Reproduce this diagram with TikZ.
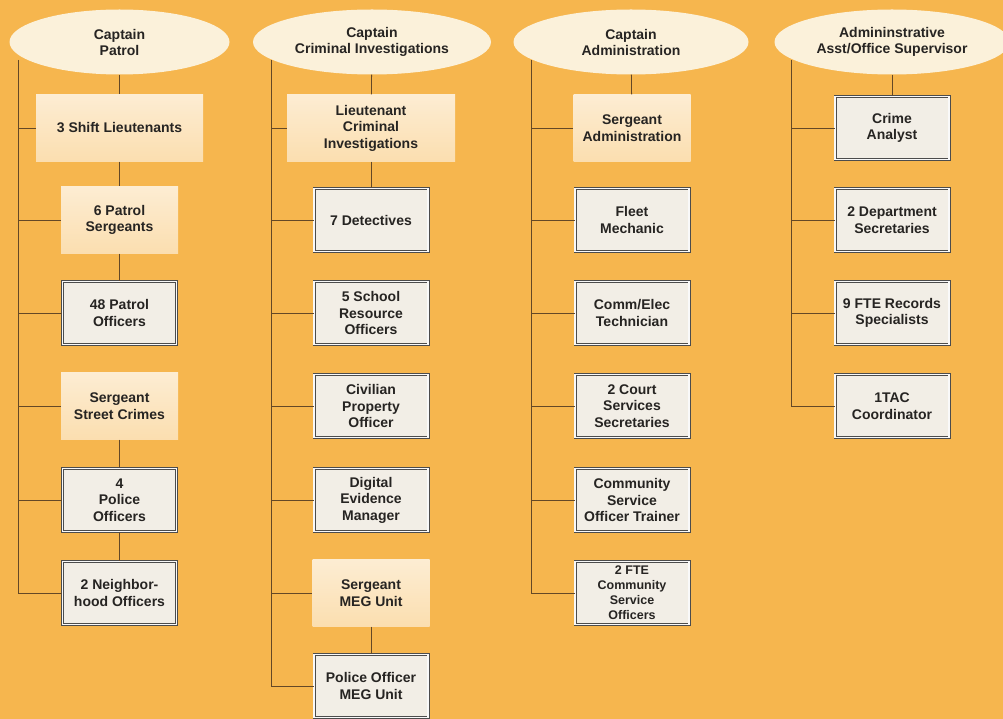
\documentclass[tikz,border=0pt]{standalone}
\usepackage{fontspec}
\setmainfont{Liberation Sans}
\usetikzlibrary{shapes.geometric}
\definecolor{bgorange}{RGB}{246,182,78}
\definecolor{cream}{RGB}{251,241,218}
\definecolor{boxfill}{RGB}{242,238,230}
\definecolor{linebrown}{RGB}{100,72,38}
\definecolor{txt}{RGB}{38,36,34}
\begin{document}
\begin{tikzpicture}[x=1pt,y=-1pt,
	chief/.style={ellipse,fill=cream,text=txt,align=center,inner sep=0pt,minimum height=65,font=\fontsize{14}{16}\selectfont\bfseries},
	lead/.style={rectangle,top color=bgorange!25!white,middle color=white,bottom color=bgorange!45!white,text=txt,align=center,inner sep=2pt,minimum width=117,minimum height=67,font=\fontsize{14}{16.5}\selectfont\bfseries},
	staff/.style={rectangle,fill=boxfill,draw=black!70,double=white!95!gray,double distance=1.4pt,line width=0.8pt,text=txt,align=center,inner sep=2pt,minimum width=114,minimum height=63,font=\fontsize{14}{16.5}\selectfont\bfseries},
	link/.style={draw=linebrown,line width=0.8pt}]
	
	\fill[bgorange] (0,0) rectangle (1003,719);
	\useasboundingbox (0,0) rectangle (1003,719);
	
	\node[chief,minimum width=220] (patrol) at (119.5,42) {Captain\\Patrol};
	\node[lead,minimum width=167] (lts) at (119.5,128) {3 Shift Lieutenants};
	\node[lead] (sgts) at (119.5,220) {6 Patrol\\Sergeants};
	\node[staff] (pofc) at (119.5,313) {48 Patrol\\Officers};
	\node[lead] (sgsc) at (119.5,406) {Sergeant\\Street Crimes};
	\node[staff] (pol) at (119.5,500) {4\\Police\\Officers};
	\node[staff] (nbh) at (119.5,593) {2 Neighbor-\\hood Officers};
	
	\node[chief,minimum width=238] (cinv) at (372,42) {Captain\\Criminal Investigations};
	\node[lead,minimum width=168] (ltci) at (371,128) {Lieutenant\\Criminal\\Investigations};
	\node[staff] (det) at (371,220) {7 Detectives};
	\node[staff] (sro) at (371,313) {5 School\\Resource\\Officers};
	\node[staff] (cpo) at (371,406) {Civilian\\Property\\Officer};
	\node[staff] (dem) at (371,500) {Digital\\Evidence\\Manager};
	\node[lead] (sgmeg) at (371,593) {Sergeant\\MEG Unit};
	\node[staff] (pomeg) at (371,686) {Police Officer\\MEG Unit};
	
	\node[chief,minimum width=235] (admin) at (631,42) {Captain\\Administration};
	\node[lead] (sgad) at (632,128) {Sergeant\\Administration};
	\node[staff] (mech) at (632,220) {Fleet\\Mechanic};
	\node[staff] (tech) at (632,313) {Comm/Elec\\Technician};
	\node[staff] (court) at (632,406) {2 Court\\Services\\Secretaries};
	\node[staff] (csot) at (632,500) {Community\\Service\\Officer Trainer};
	\node[staff,font=\fontsize{12.5}{15}\selectfont\bfseries] (cso) at (632,593) {2 FTE\\Community\\Service\\Officers};
	
	\node[chief,minimum width=235] (asst) at (892,42) {Admininstrative\\Asst/Office Supervisor};
	\node[staff] (analyst) at (892,128) {Crime\\Analyst};
	\node[staff] (secs) at (892,220) {2 Department\\Secretaries};
	\node[staff] (records) at (892,313) {9 FTE Records\\Specialists};
	\node[staff] (tac) at (892,406) {1TAC\\Coordinator};
	
	\coordinate (t1) at (18,60);
	\coordinate (t2) at (271,60);
	\coordinate (t3) at (531,60);
	\coordinate (t4) at (791,60);
	
	\draw[link] (t1) -- (t1 |- nbh.west);
	\foreach \n in {lts,sgts,pofc,sgsc,pol,nbh}
		\draw[link] (t1 |- \n.west) -- (\n.west);
	\draw[link] (patrol) -- (lts);
	\draw[link] (lts) -- (sgts);
	\draw[link] (sgts) -- (pofc);
	\draw[link] (sgsc) -- (pol);
	\draw[link] (pol) -- (nbh);
	
	\draw[link] (t2) -- (t2 |- pomeg.west);
	\foreach \n in {ltci,det,sro,cpo,dem,sgmeg,pomeg}
		\draw[link] (t2 |- \n.west) -- (\n.west);
	\draw[link] (cinv) -- (ltci);
	\draw[link] (ltci) -- (det);
	\draw[link] (sgmeg) -- (pomeg);
	
	\draw[link] (t3) -- (t3 |- cso.west);
	\foreach \n in {sgad,mech,tech,court,csot,cso}
		\draw[link] (t3 |- \n.west) -- (\n.west);
	\draw[link] (admin) -- (sgad);
	
	\draw[link] (t4) -- (t4 |- tac.west);
	\foreach \n in {analyst,secs,records,tac}
		\draw[link] (t4 |- \n.west) -- (\n.west);
	\draw[link] (asst) -- (analyst);
	
\end{tikzpicture}
\end{document}
